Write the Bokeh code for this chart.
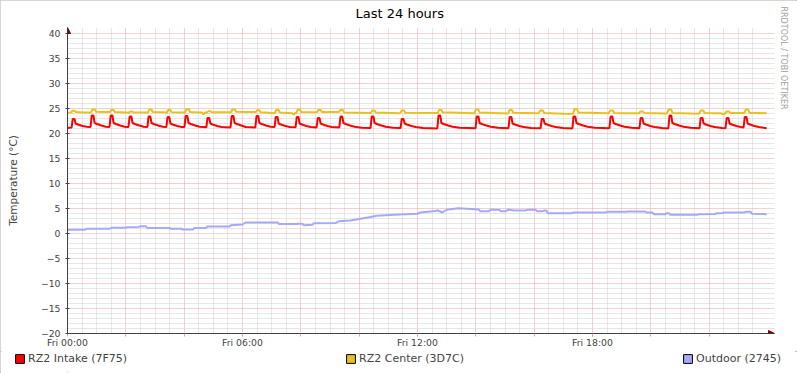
from bokeh.plotting import figure
from bokeh.layouts import column
from bokeh.models import (Range1d, FixedTicker, Legend, LegendItem, Arrow, NormalHead, Title)
from bokeh.embed import file_html
from bokeh.resources import INLINE

# ---------------- data (hours since Fri 00:00, degrees C) ----------------
intake_h = [
    0.00, 0.14, 0.18, 0.24, 0.28, 0.36, 0.51, 0.66,
    0.79, 0.83, 0.89, 0.93, 1.01, 1.16, 1.31,
    1.44, 1.48, 1.54, 1.58, 1.66, 1.81, 1.96,
    2.09, 2.13, 2.19, 2.23, 2.31, 2.46, 2.61,
    2.74, 2.78, 2.84, 2.88, 2.96, 3.11, 3.26,
    3.39, 3.43, 3.49, 3.53, 3.61, 3.76, 3.91,
    4.01, 4.05, 4.11, 4.15, 4.23, 4.38, 4.53,
    4.76, 4.80, 4.86, 4.90, 4.98, 5.13, 5.28,
    5.59, 5.63, 5.69, 5.73, 5.81, 5.96, 6.11,
    6.44, 6.48, 6.54, 6.58, 6.66, 6.81, 6.96,
    7.10, 7.14, 7.20, 7.24, 7.32, 7.47, 7.62,
    7.82, 7.86, 7.92, 7.96, 8.04, 8.19, 8.34,
    8.54, 8.58, 8.64, 8.68, 8.76, 8.91, 9.06,
    9.32, 9.36, 9.42, 9.46, 9.54, 9.69, 9.84, 10.09,
    10.39, 10.43, 10.49, 10.53, 10.61, 10.76, 10.91, 11.16,
    11.42, 11.46, 11.52, 11.56, 11.64, 11.79, 11.94, 12.19,
    12.68, 12.72, 12.78, 12.82, 12.90, 13.05, 13.20, 13.45,
    13.99, 14.03, 14.09, 14.13, 14.21, 14.36, 14.51, 14.76,
    15.12, 15.16, 15.22, 15.26, 15.34, 15.49, 15.64, 15.89,
    16.22, 16.26, 16.32, 16.36, 16.44, 16.59, 16.74, 16.99,
    17.31, 17.35, 17.41, 17.45, 17.53, 17.68, 17.83, 18.08,
    18.58, 18.62, 18.68, 18.72, 18.80, 18.95, 19.10, 19.35,
    19.61, 19.65, 19.71, 19.75, 19.83, 19.98, 20.13, 20.38,
    20.60, 20.64, 20.70, 20.74, 20.82, 20.97, 21.12, 21.37,
    21.67, 21.71, 21.77, 21.81, 21.89, 22.04, 22.19, 22.44,
    22.56, 22.60, 22.66, 22.70, 22.78, 22.93, 23.08,
    23.18, 23.22, 23.28, 23.32, 23.40, 23.55, 23.70, 23.97,
]
intake_v = [
    21.1, 21.2, 22.9, 22.9, 22.0, 21.8, 21.5, 21.35,
    21.3, 23.6, 23.6, 22.1, 21.9, 21.6, 21.35,
    21.3, 23.6, 23.6, 22.1, 21.9, 21.6, 21.35,
    21.3, 23.4, 23.4, 22.1, 21.9, 21.6, 21.35,
    21.3, 23.4, 23.4, 22.1, 21.9, 21.6, 21.35,
    21.3, 23.3, 23.3, 22.0, 21.8, 21.5, 21.3,
    21.3, 23.5, 23.5, 22.1, 21.9, 21.6, 21.35,
    21.25, 23.1, 23.1, 22.0, 21.8, 21.5, 21.3,
    21.2, 23.5, 23.5, 22.1, 21.9, 21.6, 21.3,
    21.2, 23.5, 23.5, 22.1, 21.9, 21.6, 21.35,
    21.3, 23.3, 23.3, 22.0, 21.8, 21.5, 21.3,
    21.25, 23.3, 23.3, 22.0, 21.8, 21.5, 21.3,
    21.2, 23.1, 23.1, 22.0, 21.8, 21.5, 21.3,
    21.2, 23.4, 23.4, 22.1, 21.9, 21.6, 21.35, 21.15,
    21.1, 23.4, 23.4, 22.1, 21.9, 21.6, 21.35, 21.15,
    21.1, 22.9, 22.9, 22.0, 21.8, 21.5, 21.3, 21.1,
    21.0, 23.6, 23.6, 22.1, 21.9, 21.6, 21.35, 21.15,
    21.05, 23.4, 23.4, 22.1, 21.9, 21.6, 21.35, 21.15,
    21.05, 23.3, 23.3, 22.0, 21.8, 21.5, 21.3, 21.1,
    21.05, 22.9, 22.9, 22.0, 21.8, 21.5, 21.3, 21.1,
    21.0, 23.4, 23.4, 22.1, 21.9, 21.6, 21.35, 21.15,
    21.05, 23.4, 23.4, 22.1, 21.9, 21.6, 21.35, 21.15,
    21.05, 23.1, 23.1, 22.0, 21.8, 21.5, 21.3, 21.1,
    21.0, 23.6, 23.6, 22.1, 21.9, 21.6, 21.35, 21.15,
    21.05, 23.1, 23.1, 22.0, 21.8, 21.5, 21.3, 21.1,
    21.05, 23.1, 23.1, 22.0, 21.8, 21.5, 21.3,
    21.2, 23.3, 23.3, 22.0, 21.8, 21.5, 21.3, 21.05,
]

center_h = [
    0.00, 0.12, 0.17, 0.25, 0.29, 0.55, 0.81, 0.85, 0.94, 0.98, 1.30,
    1.46, 1.50, 1.58, 1.62, 2.00, 2.11, 2.15, 2.22, 2.26, 2.76, 2.80,
    2.88, 2.92, 3.41, 3.45, 3.53, 3.57, 4.03, 4.07, 4.16, 4.20, 4.60,
    4.66, 4.72, 4.78, 4.82, 4.90, 4.94, 5.61, 5.65, 5.74, 5.78, 6.20,
    6.46, 6.50, 6.58, 6.62, 7.00, 7.10, 7.16, 7.24, 7.28, 7.70, 7.75,
    7.80, 7.85, 7.89, 7.97, 8.01, 8.55, 8.60, 8.68, 8.72, 9.30, 9.36,
    9.44, 9.48, 10.40, 10.45, 10.53, 10.57, 11.40, 11.46, 11.54, 11.58,
    12.70, 12.74, 12.82, 12.86, 13.95, 14.00, 14.09, 14.13, 15.10, 15.16,
    15.24, 15.28, 16.15, 16.21, 16.30, 16.34, 17.20, 17.34, 17.38, 17.47,
    17.51, 18.55, 18.61, 18.70, 18.74, 19.60, 19.64, 19.73, 19.77, 20.55,
    20.61, 20.70, 20.74, 21.65, 21.71, 21.80, 21.84, 22.40, 22.48, 22.55,
    22.60, 22.68, 22.72, 23.20, 23.26, 23.34, 23.38, 23.97,
]
center_v = [
    24.15, 24.2, 24.55, 24.55, 24.3, 24.2, 24.2, 24.8, 24.8, 24.35, 24.3,
    24.3, 24.7, 24.7, 24.3, 24.2, 24.15, 24.4, 24.4, 24.25, 24.2, 24.8,
    24.8, 24.3, 24.2, 24.7, 24.7, 24.25, 24.2, 24.85, 24.85, 24.3, 24.2,
    23.85, 24.2, 24.15, 24.45, 24.45, 24.25, 24.25, 24.8, 24.8, 24.35, 24.3,
    24.3, 24.65, 24.65, 24.25, 24.1, 24.05, 24.7, 24.7, 24.2, 24.05, 23.8,
    24.1, 24.1, 24.8, 24.8, 24.3, 24.25, 24.7, 24.7, 24.3, 24.3, 24.7,
    24.7, 24.2, 24.1, 24.6, 24.6, 24.2, 24.05, 24.6, 24.6, 24.15,
    24.1, 24.7, 24.7, 24.25, 24.05, 24.8, 24.8, 24.2, 24.0, 24.7,
    24.7, 24.15, 24.05, 24.6, 24.6, 24.1, 23.9, 24.0, 24.9, 24.9,
    24.2, 24.05, 24.6, 24.6, 24.1, 24.05, 24.4, 24.4, 24.1, 24.0,
    24.8, 24.8, 24.1, 23.95, 24.6, 24.6, 24.1, 24.05, 23.85, 24.05,
    24.4, 24.4, 24.1, 24.1, 24.8, 24.8, 24.15, 24.05,
]

outdoor_h = [
    0.00, 0.60, 0.65, 1.45, 1.50, 2.00, 2.05, 2.45, 2.50, 2.68, 2.73,
    3.50, 3.55, 3.90, 3.95, 4.30, 4.35, 4.75, 4.80, 5.55, 5.60, 6.00,
    6.10, 7.20, 7.25, 7.85, 7.90, 8.05, 8.10, 8.40, 8.45, 9.20, 9.30,
    9.70, 10.05, 10.40, 10.60, 11.40, 12.00, 12.10, 12.60, 12.70, 12.85,
    13.00, 13.40, 13.70, 14.10, 14.15, 14.45, 14.50, 14.80, 14.85, 15.05,
    15.10, 15.30, 15.70, 15.76, 16.05, 16.10, 16.30, 16.35, 16.42, 16.47,
    17.30, 17.35, 18.45, 18.50, 19.15, 19.20, 19.80, 19.85, 20.05, 20.10,
    20.50, 20.55, 20.62, 20.67, 21.60, 21.65, 22.20, 22.27, 22.45, 22.50,
    23.20, 23.25, 23.42, 23.47, 23.97,
]
outdoor_v = [
    0.75, 0.75, 0.93, 0.95, 1.13, 1.13, 1.27, 1.3, 1.47, 1.47, 1.1,
    1.1, 0.95, 0.95, 0.8, 0.8, 1.1, 1.1, 1.4, 1.4, 1.67, 1.8,
    2.2, 2.2, 1.9, 1.9, 1.95, 1.95, 1.67, 1.75, 2.07, 2.1, 2.45,
    2.6, 2.95, 3.3, 3.55, 3.8, 3.95, 4.2, 4.5, 4.6, 4.2,
    4.75, 5.05, 4.95, 4.8, 4.47, 4.47, 4.73, 4.73, 4.47, 4.47,
    4.8, 4.6, 4.6, 4.73, 4.73, 4.47, 4.47, 4.6, 4.6, 4.07,
    4.07, 4.2, 4.2, 4.33, 4.33, 4.4, 4.4, 4.2, 4.2, 3.87,
    3.87, 4.07, 4.07, 3.73, 3.73, 3.87, 3.9, 4.07, 4.07, 4.2,
    4.2, 4.33, 4.33, 3.93, 3.87,
]

series_labels = ["RZ2 Intake (7F75)", "RZ2 Center (3D7C)", "Outdoor (2745)"]
series_colors = ["#FF0000", "#E9C11C", "#A8A8FA"]

x_tick_hours = [0, 6, 12, 18]
x_tick_labels = ["Fri 00:00", "Fri 06:00", "Fri 12:00", "Fri 18:00"]
x_grid_major = [2, 4, 6, 8, 10, 12, 14, 16, 18, 20, 22]
x_grid_minor = [0.5, 1, 1.5, 2.5, 3, 3.5, 4.5, 5, 5.5, 6.5, 7, 7.5, 8.5, 9, 9.5,
                10.5, 11, 11.5, 12.5, 13, 13.5, 14.5, 15, 15.5, 16.5, 17, 17.5,
                18.5, 19, 19.5, 20.5, 21, 21.5, 22.5, 23, 23.5]
y_ticks = [-20, -15, -10, -5, 0, 5, 10, 15, 20, 25, 30, 35, 40]
y_minor = [v for v in range(-20, 41) if v % 5 != 0]

FONT = "DejaVu Sans"
AXIS = "#404040"
ARROW = "#7F0000"
MAJ_GRID = "#E8A0A0"
MIN_GRID = "#CFCFCF"

# x range runs a little past 24 h and y past 40 so the axis arrows fit
p = figure(frame_width=707, frame_height=306, output_backend="svg", toolbar_location=None,
           x_range=Range1d(0, 24.24), y_range=Range1d(-20, 41.2),
           min_border_left=67, min_border_right=23, min_border_top=27,
           min_border_bottom=18, background_fill_color="white",
           border_fill_color="white")
p.outline_line_color = None

p.title.text = "Last 24 hours"
p.title.align = "left"
p.title.offset = 288
p.title.vertical_align = "top"
p.title.standoff = 10
p.title.text_font = FONT
p.title.text_font_size = "13px"
p.title.text_font_style = "normal"
p.title.text_color = "#000000"

# x axis
p.xaxis.ticker = FixedTicker(ticks=x_tick_hours, minor_ticks=x_grid_major)
p.xaxis.major_label_overrides = {h: l for h, l in zip(x_tick_hours, x_tick_labels)}
p.xaxis.major_label_text_font = FONT
p.xaxis.major_label_text_font_size = "9.3px"
p.xaxis.major_label_standoff = 0
p.xaxis.axis_line_color = AXIS
p.xaxis.major_tick_line_color = MAJ_GRID
p.xaxis.minor_tick_line_color = MAJ_GRID
p.xaxis.major_tick_out = 3
p.xaxis.major_tick_in = 0
p.xaxis.minor_tick_out = 3
p.xaxis.minor_tick_in = 0

p.xgrid.ticker = FixedTicker(ticks=x_grid_major, minor_ticks=x_grid_minor)
p.xgrid.grid_line_color = MAJ_GRID
p.xgrid.grid_line_dash = "1 1"
p.xgrid.minor_grid_line_color = MIN_GRID
p.xgrid.minor_grid_line_dash = "1 1"

# y axis
p.yaxis.ticker = FixedTicker(ticks=y_ticks, minor_ticks=y_minor)
p.yaxis.axis_label = "Temperature (°C)"
p.yaxis.axis_label_text_font = FONT
p.yaxis.axis_label_text_font_size = "10.5px"
p.yaxis.axis_label_text_font_style = "normal"
p.yaxis.axis_label_standoff = 19
p.yaxis.major_label_text_font = FONT
p.yaxis.major_label_text_font_size = "9.3px"
p.yaxis.major_label_standoff = 3
p.yaxis.axis_line_color = AXIS
p.yaxis.major_tick_line_color = AXIS
p.yaxis.major_tick_out = 2
p.yaxis.major_tick_in = 2
p.yaxis.minor_tick_line_color = None

p.ygrid.grid_line_color = MAJ_GRID
p.ygrid.grid_line_dash = "1 1"
p.ygrid.minor_grid_line_color = MIN_GRID
p.ygrid.minor_grid_line_dash = "1 1"

# data lines
p.line(outdoor_h, outdoor_v, line_color=series_colors[2], line_width=2)
p.line(center_h, center_v, line_color=series_colors[1], line_width=2)
p.line(intake_h, intake_v, line_color=series_colors[0], line_width=2)

# axis arrows
p.add_layout(Arrow(end=NormalHead(size=6, fill_color=ARROW, line_color=ARROW),
                   x_start=0, y_start=-20, x_end=0, y_end=41.2,
                   line_color=AXIS, line_width=1))
p.add_layout(Arrow(end=NormalHead(size=6, fill_color=ARROW, line_color=ARROW),
                   x_start=0, y_start=-20, x_end=24.24, y_end=-20,
                   line_color=AXIS, line_width=1))

# vertical watermark on the right
wm = Title(text="RRDTOOL / TOBI OETIKER", align="left", offset=-21,
           vertical_align="top", text_font=FONT, text_font_size="8px",
           text_color="#A0A0A0", text_font_style="normal", standoff=4)
p.add_layout(wm, "right")

# legend strip below the chart
q = figure(frame_width=797, frame_height=22, output_backend="svg", toolbar_location=None,
           x_axis_location=None, y_axis_location=None, min_border=0,
           x_range=Range1d(0, 1), y_range=Range1d(0, 1),
           background_fill_color="white", border_fill_color="white")
q.outline_line_color = None
q.grid.visible = False
# off-canvas dummy quads that only provide the legend swatch styling
swatches = []
for c in series_colors:
    swatches.append(q.quad(left=[-3], right=[-2], top=[-2], bottom=[-3],
                           fill_color=c, line_color="#000000", line_width=1))
legend = Legend(items=[LegendItem(label=l, renderers=[r]) for l, r in zip(series_labels, swatches)],
                orientation="horizontal", location=(14, 8), spacing=218,
                padding=0, margin=0, glyph_width=11, glyph_height=11,
                label_standoff=3, label_height=13, label_text_font=FONT,
                label_text_font_size="11px", border_line_color=None,
                background_fill_alpha=0)
q.add_layout(legend)

layout = column(p, q, spacing=0)
# 3-D style picture frame like the RRDtool image border
layout.styles = {"outline": "2px outset #C8C8C8", "outline-offset": "-2px"}
open("out.html", "w").write(file_html(layout, INLINE))
